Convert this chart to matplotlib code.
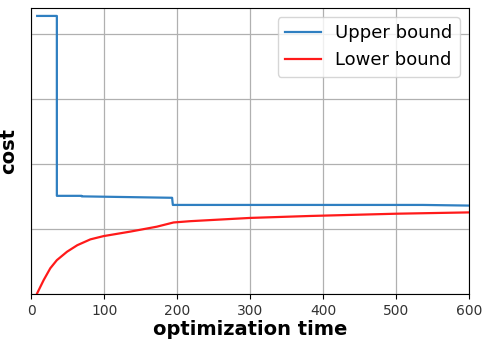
import matplotlib

matplotlib.use("Agg")
import matplotlib.pyplot as plt

# upper bound (step-like incumbent cost)
upper_t = [8, 35, 35, 69, 69, 193, 194, 537, 600]
upper_v = [4.28, 4.28, 1.51, 1.51, 1.502, 1.48, 1.37, 1.37, 1.36]

# lower bound
lower_t = [8, 17, 26, 35, 49, 63, 81, 99, 136, 172, 195, 218, 300, 382, 501, 600]
lower_v = [0.01, 0.215, 0.395, 0.52, 0.65, 0.75, 0.84, 0.89, 0.96, 1.035, 1.10, 1.12,
           1.17, 1.20, 1.235, 1.255]

x_ticks = [0, 100, 200, 300, 400, 500, 600]
y_grid = [0, 1, 2, 3, 4]

fig, ax = plt.subplots(figsize=(4.82, 3.39), dpi=100)
ax.plot(upper_t, upper_v, color="#2f7fc1", linewidth=1.6, label="Upper bound")
ax.plot(lower_t, lower_v, color="#ff1a1a", linewidth=1.6, label="Lower bound")

ax.set_xlim(0, 600)
ax.set_ylim(0, 4.4)
ax.set_xticks(x_ticks)
ax.set_yticks(y_grid)
ax.set_yticklabels([])
ax.tick_params(axis="y", length=0)
ax.tick_params(axis="x", labelsize=10, labelcolor="#333333")
ax.grid(True, color="#b0b0b0", linewidth=0.9)

ax.set_xlabel("optimization time", fontsize=14, fontweight="bold", labelpad=2)
ax.set_ylabel("cost", fontsize=14, fontweight="bold", labelpad=6)
ax.legend(loc="upper right", fontsize=13)

fig.subplots_adjust(left=0.065, right=0.973, top=0.976, bottom=0.133)
fig.savefig("out.png")
